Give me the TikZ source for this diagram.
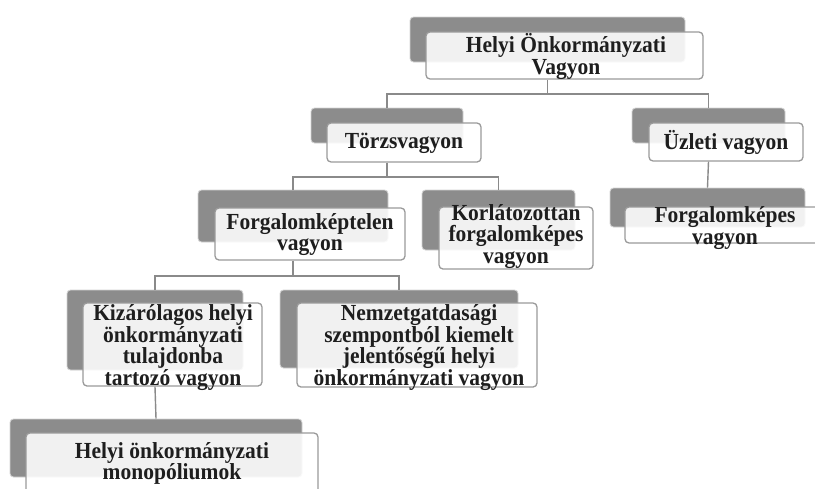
\documentclass[tikz,border=0pt]{standalone}
\usepackage{fontspec}
\setmainfont{Liberation Serif}
\newfontfamily\lblfont[FakeStretch=0.935]{Liberation Serif}
\definecolor{shade}{HTML}{8C8C8C}
\definecolor{shadeedge}{HTML}{D4D4D4}
\definecolor{boxedge}{HTML}{9A9A9A}
\definecolor{linecol}{HTML}{8A8A8A}
\definecolor{txt}{HTML}{1E1E1E}
\tikzset{
  gbox/.style={draw=shadeedge, line width=0.8pt, fill=shade, rounded corners=3.5pt, inner sep=0pt},
  wbox/.style={draw=boxedge, line width=1.3pt, fill=white, fill opacity=0.88, draw opacity=1, rounded corners=4pt, inner sep=0pt},
  lbl/.style={inner sep=0pt, align=center, text=txt, font=\lblfont\bfseries\fontsize{23}{21.8}\selectfont},
  conn/.style={draw=linecol, line width=1.4pt}
}
\begin{document}
\begin{tikzpicture}[x=1pt,y=-1pt]
\useasboundingbox (0,0) rectangle (815,488);
\clip (0,0) rectangle (815,488);
\fill[white] (0,0) rectangle (815,488);
% bus coordinates
\coordinate (b1) at (0,94);
\coordinate (b2) at (0,177);
\coordinate (b3) at (0,276);
% shadow boxes
\node[gbox, minimum width=275pt, minimum height=45pt] (g1) at (547.5,39.5) {};
\node[gbox, minimum width=152pt, minimum height=35pt] (g2) at (387,125.5) {};
\node[gbox, minimum width=153pt, minimum height=35pt] (g3) at (708.5,125.5) {};
\node[gbox, minimum width=190pt, minimum height=52pt] (g4) at (293,216) {};
\node[gbox, minimum width=153pt, minimum height=60pt] (g5) at (498.5,220) {};
\node[gbox, minimum width=195pt, minimum height=39pt] (g6) at (707.5,207.5) {};
\node[gbox, minimum width=176pt, minimum height=80pt] (g7) at (155,330) {};
\node[gbox, minimum width=238pt, minimum height=78pt] (g8) at (399,329) {};
\node[gbox, minimum width=292pt, minimum height=58pt] (g9) at (156,448) {};
% front boxes
\node[wbox, minimum width=277pt, minimum height=47pt] (w1) at (564.5,55.5) {};
\node[wbox, minimum width=154pt, minimum height=39pt] (w2) at (404,142.5) {};
\node[wbox, minimum width=154pt, minimum height=38pt] (w3) at (726,142) {};
\node[wbox, minimum width=190pt, minimum height=52pt] (w4) at (310,234) {};
\node[wbox, minimum width=154pt, minimum height=62pt] (w5) at (516,238) {};
\node[wbox, minimum width=205pt, minimum height=36pt] (w6) at (727.5,225) {};
\node[wbox, minimum width=179pt, minimum height=83pt] (w7) at (172.5,344.5) {};
\node[wbox, minimum width=240pt, minimum height=84pt] (w8) at (417,345) {};
\node[wbox, minimum width=292pt, minimum height=67pt] (w9) at (172,466.5) {};
% connectors
\draw[conn] (w1.south -| g1) -- (g1 |- b1);
\draw[conn] (g2.north) |- (g1 |- b1) -| (g3.north);
\draw[conn] (w2.south -| g2) -- (g2 |- b2);
\draw[conn] (g4.north) |- (g2 |- b2) -| (g5.north);
\draw[conn] (w3.south -| g3) -- (g6.north);
\draw[conn] (w4.south -| g4) -- (g4 |- b3);
\draw[conn] (g7.north) |- (g4 |- b3) -| (g8.north);
\draw[conn] (w7.south -| g7) -- (g9.north);
% labels
\node[lbl] (t1) at (566,56.5) {Helyi Önkormányzati\\Vagyon};
\node[lbl] (t2) at (404,143.5) {Törzsvagyon};
\node[lbl] (t3) at (726,142.5) {Üzleti vagyon};
\node[lbl] (t4) at (310,234.5) {Forgalomképtelen\\vagyon};
\node[lbl] (t5) at (516,236.5) {Korlátozottan\\forgalomképes\\vagyon};
\node[lbl] (t6) at (725,228) {Forgalomképes\\vagyon};
\node[lbl] (t7) at (173,347.5) {Kizárólagos helyi\\önkormányzati\\tulajdonba\\tartozó vagyon};
\node[lbl] (t8) at (419,347.5) {Nemzetgatdasági\\szempontból kiemelt\\jelentőségű helyi\\önkormányzati vagyon};
\node[lbl] (t9) at (172,463.5) {Helyi önkormányzati\\monopóliumok};
\end{tikzpicture}
\end{document}
